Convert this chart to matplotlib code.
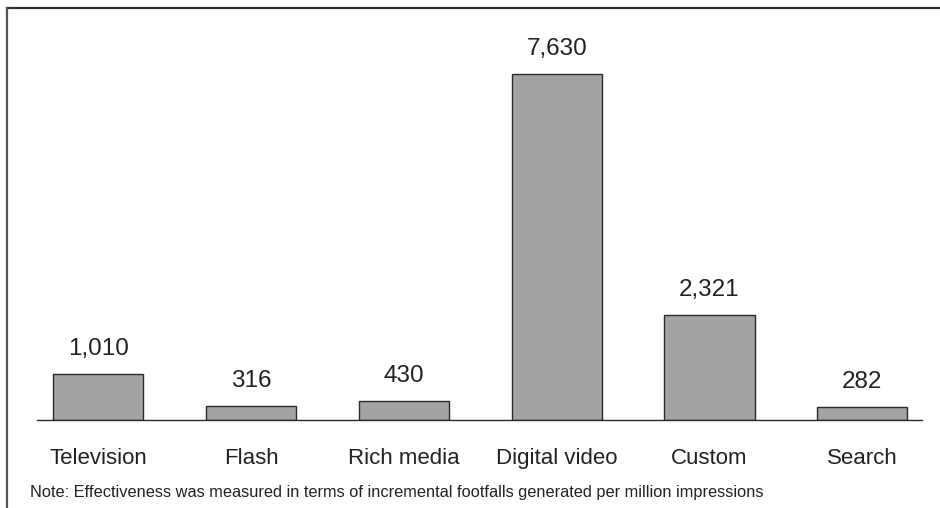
import matplotlib
matplotlib.use("Agg")
import matplotlib.pyplot as plt
from matplotlib.lines import Line2D

channels = ["Television", "Flash", "Rich media", "Digital video", "Custom", "Search"]
footfalls = [1010, 316, 430, 7630, 2321, 282]
note = "Note: Effectiveness was measured in terms of incremental footfalls generated per million impressions"

plt.rcParams["font.family"] = ["Liberation Sans", "DejaVu Sans"]
W, H = 940, 508
fig = plt.figure(figsize=(W / 100, H / 100), dpi=100)

# axes placed in pixel terms: baseline at y=420, spanning x 37..922
ax_top = 20
ax = fig.add_axes([37 / W, (H - 420) / H, (922 - 37) / W, (420 - ax_top) / H])
x = list(range(len(channels)))
ax.bar(x, footfalls, width=0.59, color="#a3a3a6", edgecolor="#2a2a2a", linewidth=1.0, zorder=2)
ax.set_xlim(-0.4, 5.39)
ax.set_ylim(0, 7630 * (420 - ax_top) / 346)

for xi, v in zip(x, footfalls):
    ax.annotate(f"{v:,}", (xi, v), xytext=(0, 10), textcoords="offset points",
                ha="center", va="bottom", fontsize=17.5, color="#222222")

ax.set_xticks(x)
ax.set_xticklabels(channels, fontsize=16, color="#222222")
ax.tick_params(axis="x", length=0, pad=20)
ax.set_yticks([])
for side in ["top", "right", "left"]:
    ax.spines[side].set_visible(False)
ax.spines["bottom"].set_color("#2a2a2a")
ax.spines["bottom"].set_linewidth(1.0)

fig.text(30 / W, 1 - 492 / H, note, fontsize=11.8, color="#222222", ha="left", va="center")

# frame on the top and left edges
fig.add_artist(Line2D([7.5 / W, 1], [1 - 7.5 / H, 1 - 7.5 / H], transform=fig.transFigure,
                      color="#333333", linewidth=1.6))
fig.add_artist(Line2D([7.5 / W, 7.5 / W], [0, 1 - 7.5 / H], transform=fig.transFigure,
                      color="#555555", linewidth=1.6))

fig.savefig("out.png", dpi=100)
